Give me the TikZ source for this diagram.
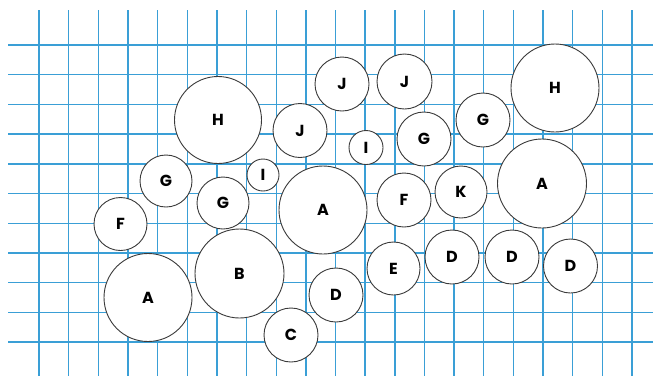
\documentclass[tikz,border=0pt]{standalone}
\usepackage{fontspec}
\setmainfont{Poppins}
\definecolor{gridblue}{HTML}{3A9FD6}
\definecolor{rim}{HTML}{3A3A3A}
\begin{document}
\begin{tikzpicture}[x=1pt,y=-1pt,
  gridline/.style={gridblue,line width=1.4pt},
  ball/.style={circle,draw=rim,fill=white,line width=0.9pt,inner sep=0pt,
    font=\fontsize{16}{16}\selectfont\bfseries}]
\useasboundingbox (0,0) rectangle (653,376);
\fill[white] (0,0) rectangle (653,376);
\foreach \k in {0,...,20}{\draw[gridline] (39+29.65*\k,10) -- (39+29.65*\k,376);}
\foreach \k in {0,...,10}{\draw[gridline] (8,45+29.7*\k) -- (653,45+29.7*\k);}
\newcommand\bb[5]{\node[ball,minimum size=2*#3 pt] (#5) at (#1,#2) {#4};}
\bb{218}{120}{43.5}{H}{h1}
\bb{166}{181}{26}{G}{g1}
\bb{120.5}{224}{26.5}{F}{f1}
\bb{148}{297.5}{44}{A}{a1}
\bb{223}{203}{26}{G}{g2}
\bb{263}{175}{16}{I}{i1}
\bb{300}{130.5}{27}{J}{j1}
\bb{342}{84}{27}{J}{j2}
\bb{404.5}{81.5}{27.5}{J}{j3}
\bb{366}{147.5}{17}{I}{i2}
\bb{424}{139}{27}{G}{g3}
\bb{483}{120}{27}{G}{g4}
\bb{555}{88}{44}{H}{h2}
\bb{542}{183.5}{44.5}{A}{a2}
\bb{461}{192}{26}{K}{k1}
\bb{404}{200}{27}{F}{f2}
\bb{323}{210}{44}{A}{a3}
\bb{239.5}{273.5}{44.5}{B}{b1}
\bb{336}{295}{27}{D}{d1}
\bb{291}{335}{27}{C}{c1}
\bb{393.5}{268.5}{26.5}{E}{e1}
\bb{452}{257}{27}{D}{d2}
\bb{512}{257}{27}{D}{d3}
\bb{570.5}{266}{27}{D}{d4}
\end{tikzpicture}
\end{document}
